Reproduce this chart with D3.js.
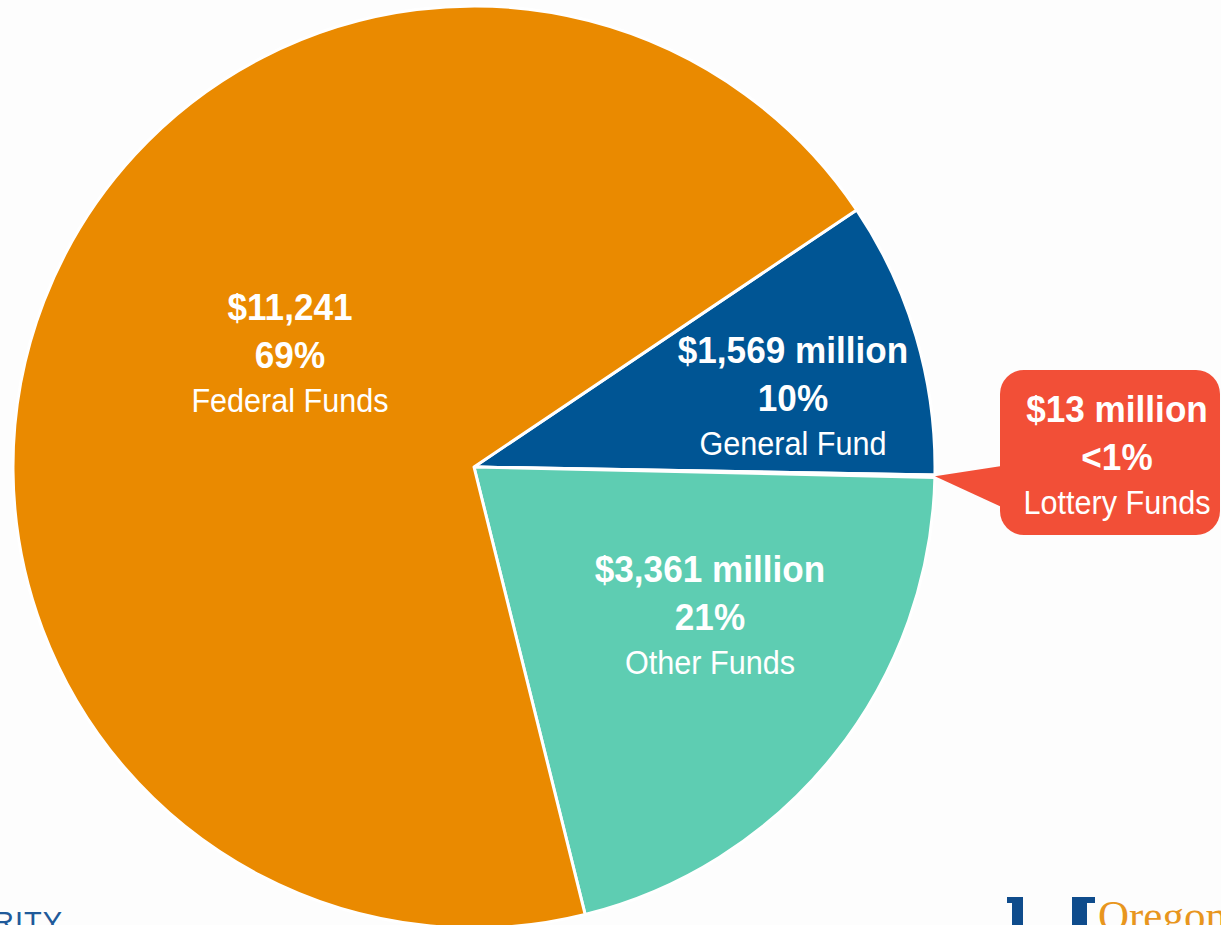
<!DOCTYPE html>
<html>
<head>
<meta charset="utf-8">
<script src="https://cdn.jsdelivr.net/npm/d3@7"></script>
<style>
  html, body { margin: 0; padding: 0; background: #fdfdfd; overflow: hidden; }
  svg { display: block; }
  text { font-family: "Liberation Sans", Arial, sans-serif; }
</style>
</head>
<body>
<svg id="chart" width="1221" height="925"></svg>
<script>
// data (millions of dollars)
let fundNames = ["General Fund", "Lottery Funds", "Other Funds", "Federal Funds"];
let fundValues = [1569, 13, 3361, 11241];
let amountLabels = ["$1,569 million", "$13 million", "$3,361 million", "$11,241"];
let percentLabels = ["10%", "<1%", "21%", "69%"];
let fundColors = ["#005594", "#f24f37", "#5ecdb2", "#ea8a00"];

// layout
let width = 1221;
let height = 925;
let cx = 474;
let cy = 467;
let radius = 461;
let startAngle = 56.1 * Math.PI / 180;

// label offsets from pie center (text centre, first baseline)
let labelOffset = {
  "Federal Funds": [-184, -147],
  "General Fund": [319, -104],
  "Other Funds": [236, 115]
};

let svg = d3.select("#chart");

let slices = fundNames.map((name, i) => ({
  name: name,
  value: fundValues[i],
  amount: amountLabels[i],
  percent: percentLabels[i],
  color: fundColors[i]
}));

let pie = d3.pie().
sort(null).
value(d => d.value).
startAngle(startAngle).
endAngle(startAngle + 2 * Math.PI);

let arc = d3.arc().
innerRadius(0).
outerRadius(radius);

let arcs = pie(slices);

let g = svg.append("g").
attr("transform", `translate(${cx},${cy})`);

g.selectAll("path.slice").
data(arcs).
enter().
append("path").
attr("class", "slice").
attr("d", arc).
attr("fill", d => d.data.color).
attr("stroke", "#ffffff").
attr("stroke-width", 3).
attr("stroke-linejoin", "round");

// labels inside slices
function drawLabel(parent, x, y, d) {
  let t = parent.append("g").
  attr("transform", `translate(${x},${y})`).
  attr("fill", "#ffffff").
  attr("text-anchor", "middle");
  t.append("text").
  attr("transform", "translate(0,0) scale(0.95,1)").
  attr("font-size", 37).
  attr("font-weight", "bold").
  text(d.data.amount);
  t.append("text").
  attr("transform", "translate(0,48) scale(0.95,1)").
  attr("font-size", 37).
  attr("font-weight", "bold").
  text(d.data.percent);
  t.append("text").
  attr("transform", "translate(0,92) scale(0.9,1)").
  attr("font-size", 34).
  text(d.data.name);
}

arcs.filter(d => labelOffset[d.data.name]).forEach(d => {
  let off = labelOffset[d.data.name];
  drawLabel(g, off[0], off[1], d);
});

// callout for the tiny lottery slice
let lottery = arcs.find(d => d.data.name === "Lottery Funds");
let mid = (lottery.startAngle + lottery.endAngle) / 2;
let tipX = cx + radius * Math.sin(mid);
let tipY = cy - radius * Math.cos(mid);

let box = { x: 1000, y: 370, w: 220, h: 165, r: 24 };

svg.append("path").
attr("d", `M${box.x},${tipY - 10} L${tipX},${tipY} L${box.x},${tipY + 30} Z`).
attr("fill", lottery.data.color);

svg.append("rect").
attr("x", box.x).
attr("y", box.y).
attr("width", box.w).
attr("height", box.h).
attr("rx", box.r).
attr("fill", lottery.data.color);

drawLabel(svg, box.x + box.w / 2 + 7, 422, lottery);

// footer fragments
svg.append("text").
attr("x", 63).
attr("y", 932).
attr("text-anchor", "end").
attr("font-size", 29).
attr("letter-spacing", 1).
attr("fill", "#1f5a9a").
text("AUTHORITY");

let logo = svg.append("g").attr("fill", "#0f4c8c");
logo.append("rect").attr("x", 1007).attr("y", 897).attr("width", 16).attr("height", 6);
logo.append("rect").attr("x", 1012).attr("y", 897).attr("width", 11).attr("height", 30);
logo.append("rect").attr("x", 1072).attr("y", 897).attr("width", 23).attr("height", 6);
logo.append("rect").attr("x", 1072).attr("y", 897).attr("width", 15).attr("height", 30);
svg.append("text").
attr("x", 1098).
attr("y", 930).
style("font-family", "'Liberation Serif', 'DejaVu Serif', serif").
attr("font-size", 43).
attr("fill", "#e8961e").
text("Oregon");
</script>
</body>
</html>
